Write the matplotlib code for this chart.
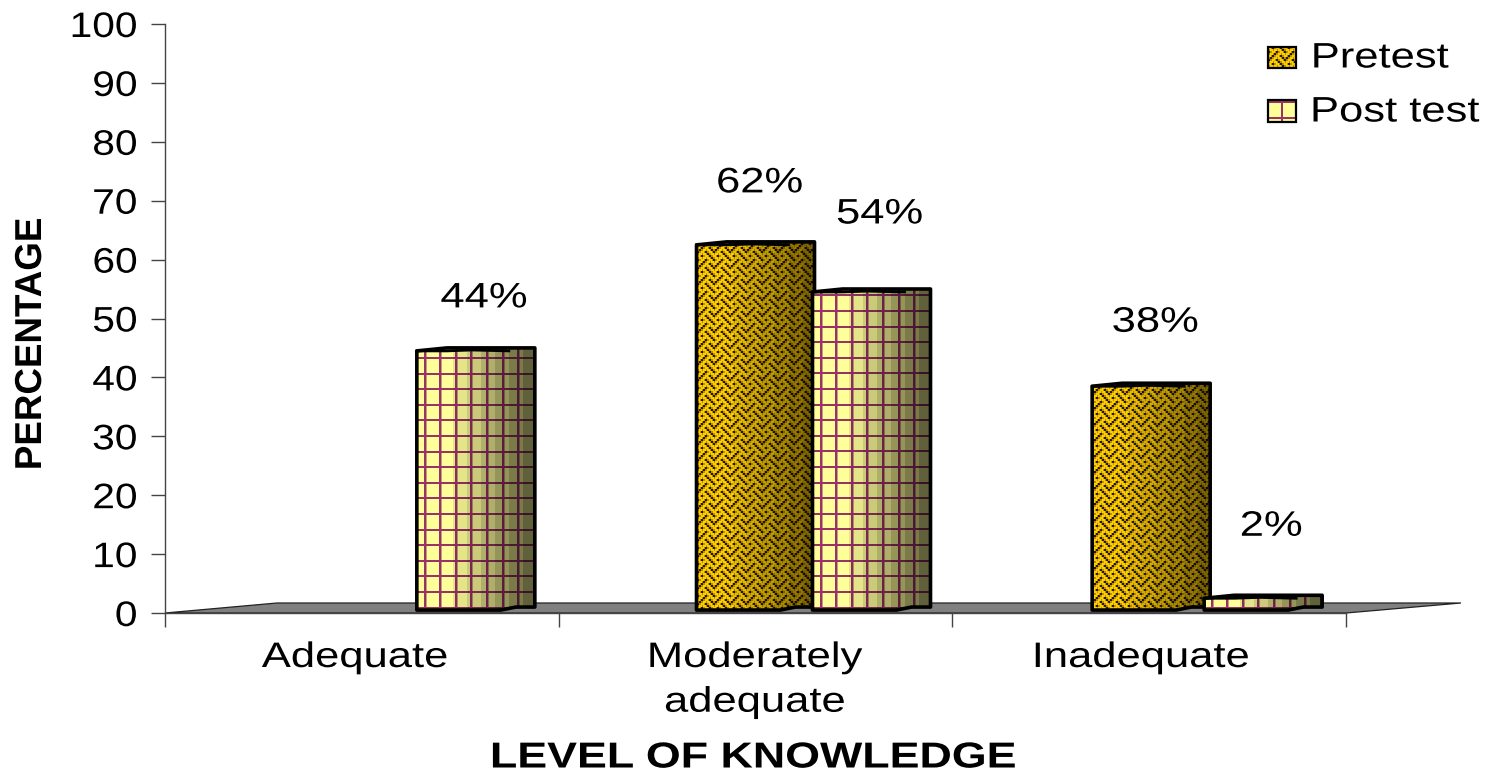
# Pretest / post test knowledge levels, drawn as textured pseudo-3D columns
import numpy as np
import matplotlib
matplotlib.use("Agg")
import matplotlib.pyplot as plt
from matplotlib.patches import Polygon
from matplotlib.patheffects import AbstractPathEffect
from matplotlib.transforms import Affine2D

categories = ["Adequate", "Moderately\nadequate", "Inadequate"]
pretest = [0, 62, 38]
post_test = [44, 54, 2]
series_names = ["Pretest", "Post test"]
y_ticks = list(range(0, 101, 10))

# vertical gap between each column top and its label, in pixels (pre, post)
pre_label_gap = [0, 62, 64]
post_label_gap = [53, 78, 72]
category_label_x = [355, 755, 1141]
# small horizontal corrections per column, in pixels
pre_nudge = [0, 1, 3]
post_nudge = [0, 2, 0]

W, H = 1499, 774
AX_LEFT, AX_RIGHT, AX_TOP, AX_BOTTOM = 165, 1346, 24, 613
PX_X = 3 / (AX_RIGHT - AX_LEFT)
PX_Y = 100 / (AX_BOTTOM - AX_TOP)
FONT = 25.5
WIDE = 1.23

plt.rcParams["font.family"] = ["Liberation Sans", "DejaVu Sans"]


class StretchX(AbstractPathEffect):
    # wide text: scales glyph outlines along the text direction
    def __init__(self, sx, anchor="center"):
        super().__init__()
        self.sx = sx
        self.anchor = anchor

    def draw_path(self, renderer, gc, tpath, affine, rgbFace=None):
        box = tpath.get_extents()
        fixed = box.x1 if self.anchor == "right" else (box.x0 + box.x1) / 2
        stretch = Affine2D().translate(-fixed, 0).scale(self.sx, 1).translate(fixed, 0)
        renderer.draw_path(gc, tpath, stretch + affine, rgbFace)


WEAVE_BITS = [0x88, 0x54, 0x22, 0x45, 0x88, 0x14, 0x22, 0x51]


def weave_texture(w, h, scale=2):
    # gold strips from the weave bitmap, dotted dark fill between them
    tile = np.array([[(row >> (7 - i)) & 1 for i in range(8)] for row in WEAVE_BITS], dtype=bool)
    tile = np.kron(tile, np.ones((scale, scale), dtype=bool))
    tile = tile | np.roll(tile, 1, axis=1)
    size = tile.shape[0]
    yy, xx = np.mgrid[0:h, 0:w]
    strips = tile[yy % size, xx % size]
    dots = (xx // 2 + yy // 2) % 2 == 0
    img = np.ones((h, w, 3)) * np.array([0.72, 0.56, 0.0])
    img[dots] = [0.14, 0.11, 0.0]
    img[strips] = [1.0, 0.8, 0.0]
    return img


def grid_texture(w, h, step=15.6):
    img = np.ones((h, w, 3)) * np.array([1.0, 1.0, 0.6])
    line = np.array([0.6, 0.2, 0.4])
    soft = np.array([0.8, 0.6, 0.5])
    for x in np.arange(7, w - 2, step):
        img[:, int(x) + 2] = soft
        img[:, int(x):int(x) + 2] = line
    for y in np.arange(h - 3, 0, -step):
        img[int(y):int(y) + 2, :] = line
    return img


def shade(img, floor):
    # stepped darkening from left to right, rounds the column off
    w = img.shape[1]
    t = np.arange(w) / w
    bands = np.floor(np.clip((t - 0.18) / 0.82, 0, 0.999) * 7) / 6
    factor = 1 - (1 - floor) * bands
    return img * factor[None, :, None]


def draw_column(ax, x0, value, kind, zorder):
    front, depth, rise = 84 * PX_X, 34 * PX_X, 3 * PX_Y
    base = 0.5
    top = base + value
    pts = [
        (x0, base), (x0, top), (x0 + 30 * PX_X, top + rise),
        (x0 + front + depth, top + rise), (x0 + front + depth, base + rise),
        (x0 + front + 15 * PX_X, base + rise), (x0 + front, base),
    ]
    # whole pixels per texel, the polygon clip trims the overshoot
    w = 120
    h = int(np.ceil((value + rise) / PX_Y)) + 2
    if kind == "pre":
        img = shade(weave_texture(w, h), 0.5)
    else:
        img = shade(grid_texture(w, h), 0.38)
    im = ax.imshow(img, extent=(x0, x0 + w * PX_X, base, base + h * PX_Y), aspect="auto",
                   interpolation="nearest", zorder=zorder)
    outline = Polygon(pts, closed=True, fill=False, edgecolor="black", linewidth=2.6,
                      joinstyle="round", transform=ax.transData, zorder=zorder + 0.1)
    ax.add_patch(outline)
    im.set_clip_path(Polygon(pts, closed=True, transform=ax.transData))
    ax.plot([x0, x0 + 30 * PX_X, x0 + 55 * PX_X, x0 + front + 8 * PX_X], [top, top, top + rise * 0.3, top],
            color="black", lw=2.0, zorder=zorder + 0.1)


fig = plt.figure(figsize=(W / 100, H / 100), dpi=100)
ax = fig.add_axes([AX_LEFT / W, 1 - AX_BOTTOM / H, (AX_RIGHT - AX_LEFT) / W, (AX_BOTTOM - AX_TOP) / H])

# floor plate behind the columns
floor = Polygon([(0, 0), (112 * PX_X, 10 * PX_Y), (3 + 115 * PX_X, 10 * PX_Y), (3, 0)], closed=True,
                facecolor="#808080", edgecolor="#222222", linewidth=0.9, clip_on=False, zorder=1)
ax.add_patch(floor)

for i in range(len(categories)):
    pre_x = i + 0.5 + (pre_nudge[i] - 60) * PX_X
    post_x = i + 0.5 + (post_nudge[i] + 55) * PX_X
    if pretest[i] > 0:
        draw_column(ax, pre_x, pretest[i], "pre", 2 + i)
        ax.annotate(f"{pretest[i]}%", xy=(pre_x + 63 * PX_X, pretest[i] + 0.5), xytext=(0, pre_label_gap[i]),
                    textcoords="offset pixels", ha="center", va="center", fontsize=FONT,
                    path_effects=[StretchX(WIDE)], zorder=10)
    draw_column(ax, post_x, post_test[i], "post", 2.5 + i)
    ax.annotate(f"{post_test[i]}%", xy=(post_x + 67 * PX_X, post_test[i] + 0.5), xytext=(0, post_label_gap[i]),
                textcoords="offset pixels", ha="center", va="center", fontsize=FONT,
                path_effects=[StretchX(WIDE)], zorder=10)

ax.set_xlim(0, 3)
ax.set_ylim(0, 100)
for side in ["top", "right"]:
    ax.spines[side].set_visible(False)
for side in ["left", "bottom"]:
    ax.spines[side].set_color("#444444")
    ax.spines[side].set_linewidth(1.0)
ax.set_xticks(range(len(categories) + 1))
ax.set_xticklabels([])
ax.set_yticks(y_ticks)
ax.set_yticklabels([str(v) for v in y_ticks], fontsize=FONT, path_effects=[StretchX(1.15, "right")])
ax.tick_params(axis="both", length=10, width=1.0, color="#444444")
ax.tick_params(axis="y", pad=10)
ax.patch.set_visible(False)

# overlay in pixel coordinates for axis titles and the legend
px = fig.add_axes([0, 0, 1, 1])
px.set_xlim(0, W)
px.set_ylim(H, 0)
px.axis("off")

for name, x in zip(categories, category_label_x):
    px.text(x, 641, name, ha="center", va="top", fontsize=FONT, linespacing=1.45,
            path_effects=[StretchX(WIDE)])
px.text(753, 758, "LEVEL OF KNOWLEDGE", ha="center", va="center", fontsize=26, fontweight="bold",
        path_effects=[StretchX(1.24)])
px.text(31, 344, "PERCENTAGE", ha="center", va="center", rotation=90, fontsize=27, fontweight="bold",
        path_effects=[StretchX(0.98)])

# legend
px.imshow(weave_texture(28, 21), extent=(1268, 1296, 68, 47), aspect="auto", interpolation="nearest")
swatch = np.ones((22, 28, 3)) * np.array([1.0, 1.0, 0.6])
swatch[:, 13:15] = [0.6, 0.2, 0.4]
swatch[17:19, :] = [0.6, 0.2, 0.4]
swatch[:3, :] = [0.6, 0.2, 0.4]
px.imshow(swatch, extent=(1268, 1296, 122, 100), aspect="auto", interpolation="nearest")
px.set_xlim(0, W)
px.set_ylim(H, 0)
for y0, y1 in [(47, 68), (100, 122)]:
    px.add_patch(Polygon([(1268, y0), (1296, y0), (1296, y1), (1268, y1)], closed=True, fill=False,
                         edgecolor="black", linewidth=1.6))
px.text(1380, 58, series_names[0], ha="center", va="center", fontsize=FONT, path_effects=[StretchX(WIDE)])
px.text(1395, 112, series_names[1], ha="center", va="center", fontsize=FONT, path_effects=[StretchX(WIDE)])

fig.savefig("out.png", dpi=100)
